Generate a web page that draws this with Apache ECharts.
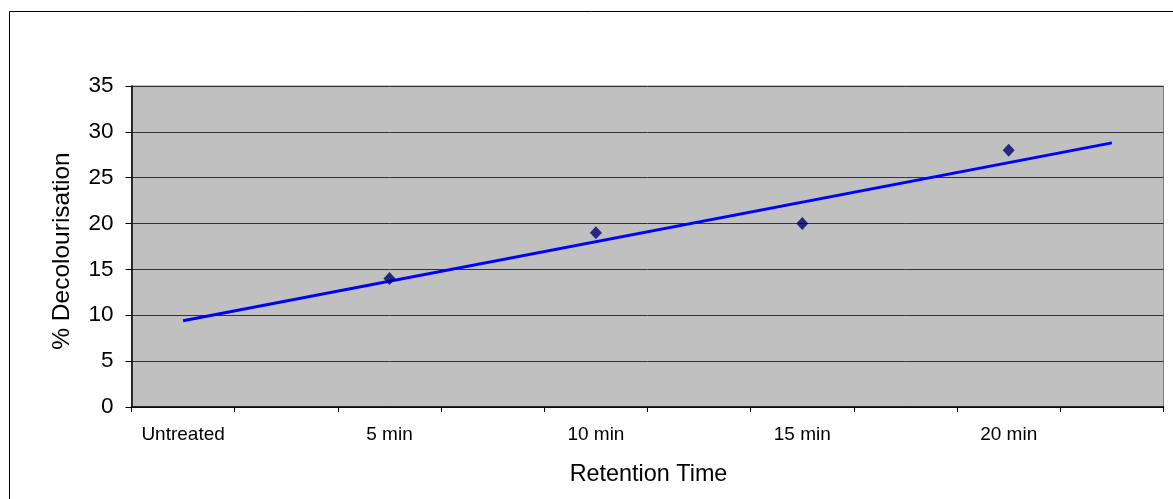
<!DOCTYPE html>
<html>
<head>
<meta charset="utf-8">
<script src="https://cdn.jsdelivr.net/npm/echarts@6/dist/echarts.min.js"></script>
<style>
  html, body { margin: 0; padding: 0; background: #fff; }
  #chart { width: 1173px; height: 499px; }
</style>
</head>
<body>
<div id="chart"></div>
<script>
// Category slots: every treatment occupies a labelled slot followed by a blank one
const categories = ['Untreated', '', '5 min', '', '10 min', '', '15 min', '', '20 min', ''];
// Measured decolourisation (%) per slot; Untreated has no reading
const decolourisation = [null, null, 14, null, 19, null, 20, null, 28, null];
// Linear trendline end values (first and last slot)
const trendValues = [9.41, null, null, null, null, null, null, null, null, 28.8];
const yTicks = { min: 0, max: 35, interval: 5 };

const FONT = '"Liberation Sans", Arial, sans-serif';
const chart = echarts.init(document.getElementById('chart'), null, { renderer: 'canvas' });

chart.setOption({
  animation: false,
  backgroundColor: '#ffffff',
  graphic: [
    {
      type: 'rect',
      shape: { x: 9.5, y: 11.5, width: 1300, height: 700 },
      style: { fill: 'none', stroke: '#000', lineWidth: 1 },
      silent: true,
      z: 100
    },
    {
      type: 'text',
      x: 648.5, y: 475,
      style: { text: 'Retention Time', font: '23.4px ' + FONT, fill: '#000', align: 'center', verticalAlign: 'middle' }
    },
    {
      type: 'text',
      x: 62.5, y: 251,
      rotation: Math.PI / 2,
      style: { text: '% Decolourisation', font: '24.5px ' + FONT, fill: '#000', align: 'center', verticalAlign: 'middle' }
    }
  ],
  grid: {
    left: 131.5, right: 9.5, top: 86, bottom: 92,
    show: true,
    backgroundColor: '#c0c0c0',
    borderColor: '#808080',
    borderWidth: 1
  },
  xAxis: {
    type: 'category',
    data: categories,
    boundaryGap: true,
    axisLine: { show: true, lineStyle: { color: '#000', width: 1.5 } },
    axisTick: { show: true, interval: 0, length: 5, lineStyle: { color: '#000' } },
    axisLabel: { interval: 0, margin: 18, color: '#000', fontSize: 19, fontFamily: FONT },
    splitLine: { show: false }
  },
  yAxis: {
    type: 'value',
    min: yTicks.min, max: yTicks.max, interval: yTicks.interval,
    axisLine: { show: true, lineStyle: { color: '#000', width: 1.5 } },
    axisTick: { show: true, length: 6, lineStyle: { color: '#000' } },
    axisLabel: { margin: 18, color: '#000', fontSize: 22.5, fontFamily: FONT },
    splitLine: { show: true, lineStyle: { color: '#333', width: 1 } }
  },
  series: [
    {
      name: 'Trend',
      type: 'line',
      data: trendValues,
      connectNulls: true,
      showSymbol: false,
      symbol: 'none',
      lineStyle: { color: '#0000ff', width: 3 },
      z: 2
    },
    {
      name: '% Decolourisation',
      type: 'scatter',
      data: decolourisation,
      symbol: 'diamond',
      symbolSize: [12, 13],
      itemStyle: { color: '#000070' },
      z: 3
    }
  ]
});
</script>
</body>
</html>
